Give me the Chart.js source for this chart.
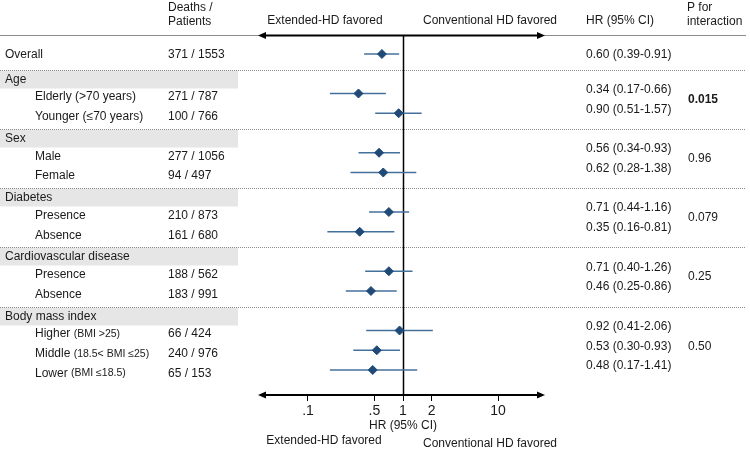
<!DOCTYPE html>
<html>
<head>
<meta charset="utf-8">
<script src="https://cdn.jsdelivr.net/npm/chart.js@4.4.1/dist/chart.umd.min.js"></script>
<style>
html, body { margin: 0; padding: 0; background: #fff; }
#wrap { width: 750px; height: 452px; }
</style>
</head>
<body>
<div id="wrap"><canvas id="forest" width="750" height="452"></canvas></div>
<script>
// rows of the forest plot, top to bottom
const rowLabels = ['Overall', 'Age', 'Elderly (>70 years)', 'Younger (≤70 years)', 'Sex', 'Male', 'Female',
    'Diabetes', 'Presence', 'Absence', 'Cardiovascular disease', 'Presence', 'Absence',
    'Body mass index', 'Higher', 'Middle', 'Lower'];
const rowNotes = ['', '', '', '', '', '', '', '', '', '', '', '', '', '', '(BMI >25)', '(18.5< BMI ≤25)', '(BMI ≤18.5)'];
const rowKinds = ['overall', 'group', 'sub', 'sub', 'group', 'sub', 'sub', 'group', 'sub', 'sub',
    'group', 'sub', 'sub', 'group', 'sub', 'sub', 'sub'];
const deaths   = [371, null, 271, 100, null, 277, 94, null, 210, 161, null, 188, 183, null, 66, 240, 65];
const patients = [1553, null, 787, 766, null, 1056, 497, null, 873, 680, null, 562, 991, null, 424, 976, 153];
const hr     = [0.60, null, 0.34, 0.90, null, 0.56, 0.62, null, 0.71, 0.35, null, 0.71, 0.46, null, 0.92, 0.53, 0.48];
const ciLow  = [0.39, null, 0.17, 0.51, null, 0.34, 0.28, null, 0.44, 0.16, null, 0.40, 0.25, null, 0.41, 0.30, 0.17];
const ciHigh = [0.91, null, 0.66, 1.57, null, 0.93, 1.38, null, 1.16, 0.81, null, 1.26, 0.86, null, 2.06, 0.93, 1.41];
// p for interaction, one per group (same order as the group rows)
const pInteraction = ['0.015', '0.96', '0.079', '0.25', '0.50'];
const pBold = [true, false, false, false, false];
const xTicks = [0.1, 0.5, 1, 2, 10];
const xTickLabels = ['.1', '.5', '1', '2', '10'];

const FONT = '"Liberation Sans", Arial, Helvetica, sans-serif';
const TEXT = '#1a1a1a';
const MARK = '#1f4a78';
const CI_COLOR = '#44709c';

Chart.defaults.font.family = FONT;

const markerData = [];
const ciSets = [];
hr.forEach((v, i) => {
    if (v === null) return;
    markerData.push({ x: v, y: i });
    ciSets.push({
        type: 'line',
        data: [{ x: ciLow[i], y: i }, { x: ciHigh[i], y: i }],
        borderColor: CI_COLOR,
        borderWidth: 1.5,
        pointRadius: 0,
        order: 1
    });
});

function arrowHead(ctx, x, y, dir) {
    ctx.beginPath();
    ctx.moveTo(x, y);
    ctx.lineTo(x - dir * 8, y - 3.5);
    ctx.lineTo(x - dir * 8, y + 3.5);
    ctx.closePath();
    ctx.fill();
}

function text(ctx, str, x, y, size, align, bold) {
    ctx.font = (bold ? 'bold ' : '') + size + 'px ' + FONT;
    ctx.textAlign = align || 'left';
    ctx.textBaseline = 'middle';
    ctx.fillStyle = TEXT;
    ctx.fillText(str, x, y);
}

const forestPlugin = {
    id: 'forest',
    beforeDatasetsDraw(chart) {
        const { ctx, chartArea: a, scales } = chart;
        const ys = scales.y, xs = scales.x;
        ctx.save();

        // group bands and dotted separators
        rowKinds.forEach((k, i) => {
            if (k !== 'group') return;
            const sep = Math.round(ys.getPixelForValue(i) - 4) + 0.5;
            ctx.fillStyle = '#e6e6e6';
            ctx.fillRect(0, sep, 238, 18);
            ctx.strokeStyle = '#8c8c8c';
            ctx.lineWidth = 1;
            ctx.setLineDash([1, 1]);
            ctx.beginPath();
            ctx.moveTo(0, sep);
            ctx.lineTo(746, sep);
            ctx.stroke();
            ctx.setLineDash([]);
        });

        // top rule
        ctx.strokeStyle = '#8c8c8c';
        ctx.lineWidth = 1;
        ctx.beginPath();
        ctx.moveTo(0, a.top + 0.5);
        ctx.lineTo(746, a.top + 0.5);
        ctx.stroke();

        // arrows at top and bottom
        ctx.strokeStyle = '#000';
        ctx.fillStyle = '#000';
        ctx.lineWidth = 2;
        [a.top + 0.5, a.bottom].forEach(y => {
            ctx.beginPath();
            ctx.moveTo(a.left + 4, y);
            ctx.lineTo(a.right - 4, y);
            ctx.stroke();
            arrowHead(ctx, a.left, y, -1);
            arrowHead(ctx, a.right, y, 1);
        });

        // line of no effect
        const x1 = Math.round(xs.getPixelForValue(1)) + 0.5;
        ctx.lineWidth = 1.5;
        ctx.beginPath();
        ctx.moveTo(x1, a.top);
        ctx.lineTo(x1, a.bottom);
        ctx.stroke();
        ctx.restore();
    },
    afterDraw(chart) {
        const { ctx, chartArea: a, scales } = chart;
        const ys = scales.y, xs = scales.x;
        ctx.save();

        // headers
        text(ctx, 'Deaths /', 168, 8, 12);
        text(ctx, 'Patients', 168, 22, 12);
        text(ctx, 'Extended-HD favored', 325, 21, 12, 'center');
        text(ctx, 'Conventional HD favored', 490, 21, 12, 'center');
        text(ctx, 'HR (95% CI)', 586, 21, 12);
        text(ctx, 'P for', 687, 8, 12);
        text(ctx, 'interaction', 687, 22, 12);

        // bottom axis captions
        const xc = xs.getPixelForValue(1);
        text(ctx, 'HR (95% CI)', xc, a.bottom + 31, 12, 'center');
        text(ctx, 'Extended-HD favored', 324, a.bottom + 46, 12, 'center');
        text(ctx, 'Conventional HD favored', 490, a.bottom + 49, 12, 'center');

        let g = 0;
        let groupRows = [];
        const flushP = () => {
            if (!groupRows.length) return;
            const yy = groupRows.reduce((s, v) => s + v, 0) / groupRows.length;
            const mid = groupRows.length === 3 ? groupRows[1] : yy;
            text(ctx, pInteraction[g], 688, mid, 12, 'left', pBold[g]);
            g++;
            groupRows = [];
        };

        rowKinds.forEach((k, i) => {
            const y = ys.getPixelForValue(i);
            if (k === 'group') {
                flushP();
                const sep = Math.round(y - 4) + 0.5;
                text(ctx, rowLabels[i], 5, sep + 9.5, 12);
                return;
            }
            const ly = k === 'overall' ? y + 1 : y + 3.5;
            const lx = k === 'overall' ? 5 : 35;
            text(ctx, rowLabels[i], lx, ly, 12);
            if (rowNotes[i]) {
                ctx.font = '12px ' + FONT;
                const w = ctx.measureText(rowLabels[i] + ' ').width;
                text(ctx, rowNotes[i], lx + w, ly, 10.5);
            }
            text(ctx, deaths[i] + ' / ' + patients[i], 168, ly, 12);
            const hy = k === 'overall' ? y + 1 : y - 4;
            text(ctx, hr[i].toFixed(2) + ' (' + ciLow[i].toFixed(2) + '-' + ciHigh[i].toFixed(2) + ')', 586, hy, 12);
            if (k === 'sub') groupRows.push(hy);
        });
        flushP();
        ctx.restore();
    }
};

new Chart(document.getElementById('forest'), {
    type: 'scatter',
    data: {
        datasets: [{
            data: markerData,
            pointStyle: 'rectRot',
            pointRadius: 4.5,
            pointBackgroundColor: MARK,
            pointBorderColor: MARK,
            pointBorderWidth: 1,
            order: 0
        }].concat(ciSets)
    },
    options: {
        responsive: false,
        devicePixelRatio: 1,
        animation: false,
        layout: { padding: { left: 258, right: 205, top: 35, bottom: 0 } },
        plugins: { legend: { display: false }, tooltip: { enabled: false } },
        scales: {
            x: {
                type: 'logarithmic',
                min: 0.0298,
                max: 31.2,
                bounds: 'data',
                border: { display: false },
                grid: { drawOnChartArea: false, drawTicks: true, tickLength: 6, color: '#000', lineWidth: 1 },
                ticks: {
                    font: { size: 14 },
                    color: TEXT,
                    padding: 2,
                    autoSkip: false,
                    maxRotation: 0,
                    callback: (v) => {
                        const k = xTicks.indexOf(v);
                        return k >= 0 ? xTickLabels[k] : '';
                    }
                },
                afterBuildTicks: (scale) => {
                    scale.ticks = xTicks.map(v => ({ value: v }));
                },
                afterFit: (scale) => { scale.height = 57; }
            },
            y: {
                type: 'linear',
                reverse: true,
                min: -0.962,
                max: 17.266,
                display: false
            }
        }
    },
    plugins: [forestPlugin]
});
</script>
</body>
</html>
